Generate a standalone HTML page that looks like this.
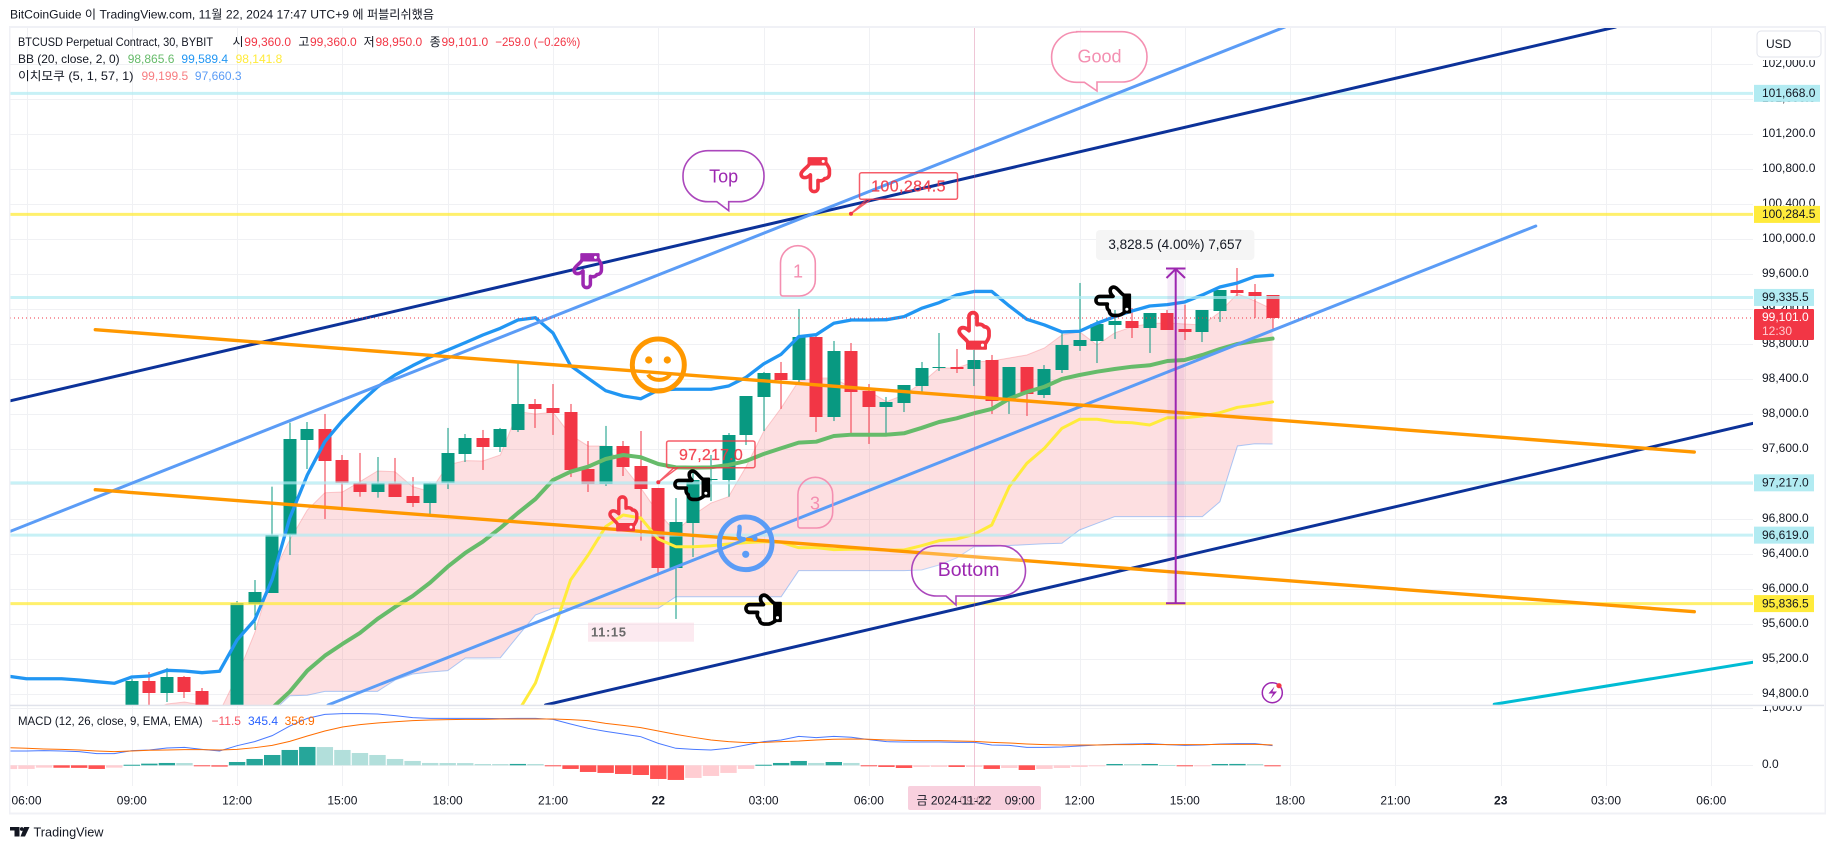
<!DOCTYPE html>
<html lang="ko">
<head>
<meta charset="utf-8">
<title>BTCUSD Perpetual Contract chart</title>
<style>
html,body{margin:0;padding:0;background:#fff;width:1835px;height:849px;overflow:hidden}
svg{display:block;font-family:"Liberation Sans","Noto Sans CJK KR",sans-serif}
text{font-size:12px;fill:#131722}
</style>
</head>
<body>
<svg id="chart" xmlns="http://www.w3.org/2000/svg" width="1835" height="849" viewBox="0 0 1835 849">
  <defs>
    <clipPath id="main-clip"><rect x="10" y="28" width="1743" height="677"/></clipPath>
    <clipPath id="macd-clip"><rect x="10" y="706" width="1743" height="80"/></clipPath>
    <clipPath id="axis-clip"><rect x="1754" y="28" width="70" height="677"/></clipPath>
    <clipPath id="macd-axis-clip"><rect x="1754" y="706" width="70" height="80"/></clipPath>
    <g id="hand">
      <path fill="none" stroke="currentColor" stroke-width="3.8" stroke-linejoin="round" d="M12 19V5a4 4 0 0 1 8 0V13c3-1 6 0 7 2c3 0 5 2 5 5V24c0 3-2 5-3 7H11c-1-3-5-5-8-9c-2-3 0-6 3-6c2 0 4 1 6 3z"/>
      <rect x="9" y="29" width="21" height="9" rx="1" fill="currentColor"/>
      <circle cx="25.5" cy="33.5" r="1.6" fill="#fff"/>
    </g>
  </defs>

  <text x="10" y="18.5" textLength="424" lengthAdjust="spacingAndGlyphs">BitCoinGuide 이 TradingView.com, 11월 22, 2024 17:47 UTC+9 에 퍼블리쉬했음</text>

  <g id="grid"></g>
  <g id="main-pane" clip-path="url(#main-clip)"></g>
  <g id="macd-pane" clip-path="url(#macd-clip)"></g>

  <line x1="974.5" y1="28" x2="974.5" y2="786" stroke="#f06292" stroke-opacity=".3"/>

  <g id="annotations" clip-path="url(#main-clip)">
    <path d="M1076.6 31.7H1122a25 25 0 0 1 25 25v.3a25 25 0 0 1-25 25H1097V91L1084.4 82.3H1076.6a25 25 0 0 1-25-25v-.3a25 25 0 0 1 25-25Z" fill="#fff" fill-opacity=".6" stroke="#f48fb1" stroke-width="1.6"/>
    <text x="1099.5" y="62.5" text-anchor="middle" style="font-size:18px;fill:#f48fb1">Good</text>

    <path d="M708 150.7H739a25 25 0 0 1 25 25v1a25 25 0 0 1-25 25H728.7V210.7L716.8 201.7H708a25 25 0 0 1-25-25v-1a25 25 0 0 1 25-25Z" fill="none" stroke="#ab47bc" stroke-width="1.6"/>
    <text x="723.6" y="182.5" text-anchor="middle" style="font-size:18px;fill:#9c27b0">Top</text>

    <path d="M936.7 545.7H1000.5a25 25 0 0 1 25 25v.3a25 25 0 0 1-25 25H956V605L946 596H936.7a25 25 0 0 1-25-25v-.3a25 25 0 0 1 25-25Z" fill="#fff" fill-opacity=".25" stroke="#ab47bc" stroke-width="1.6"/>
    <text x="968.6" y="576" text-anchor="middle" style="font-size:19.5px;fill:#9c27b0">Bottom</text>

    <path d="M797.9 245.7a17.4 17.4 0 0 1 17.4 17.4V280a16 16 0 0 1-16 16H783a2.5 2.5 0 0 1-2.5-2.5V263.1a17.4 17.4 0 0 1 17.4-17.4Z" fill="none" stroke="#f48fb1" stroke-width="1.6"/>
    <text x="798" y="277.5" text-anchor="middle" style="font-size:18px;fill:#f48fb1">1</text>
    <path d="M815.3 477.3a17.4 17.4 0 0 1 17.4 17.4V512a16 16 0 0 1-16 16H800.4a2.5 2.5 0 0 1-2.5-2.5V494.7a17.4 17.4 0 0 1 17.4-17.4Z" fill="none" stroke="#f48fb1" stroke-width="1.6"/>
    <text x="815" y="509.5" text-anchor="middle" style="font-size:18px;fill:#f48fb1">3</text>

    <g>
      <rect x="859.5" y="172.7" width="98" height="26.6" rx="2" fill="none" stroke="#f23645" stroke-opacity=".8" stroke-width="1.5"/>
      <path d="M867 199.3L851 213.7L871 199.3" fill="none" stroke="#f23645" stroke-opacity=".8" stroke-width="1.5"/>
      <circle cx="851" cy="213.7" r="2" fill="#f23645"/>
      <text x="908.5" y="191.5" text-anchor="middle" style="font-size:16px;letter-spacing:.4px;fill:#f23645;fill-opacity:.9;stroke:#f23645;stroke-width:.3px;stroke-opacity:.7">100,284.5</text>
    </g>
    <g>
      <rect x="666.6" y="441" width="88.4" height="26.7" rx="2" fill="none" stroke="#f23645" stroke-opacity=".8" stroke-width="1.5"/>
      <path d="M674 467.7L658.3 482.3L678 467.7" fill="none" stroke="#f23645" stroke-opacity=".8" stroke-width="1.5"/>
      <circle cx="658.3" cy="482.3" r="2" fill="#f23645"/>
      <text x="711" y="460" text-anchor="middle" style="font-size:16px;letter-spacing:.2px;fill:#f23645;fill-opacity:.9;stroke:#f23645;stroke-width:.3px;stroke-opacity:.7">97,217.0</text>
    </g>

    <use href="#hand" transform="translate(572,288.5) scale(.92,-.93)" style="color:#9c27b0"/>
    <use href="#hand" transform="translate(799,192.5) scale(.95,-.93)" style="color:#f23645"/>
    <use href="#hand" transform="translate(957,311.7)" style="color:#f23645"/>
    <use href="#hand" transform="translate(608,496) scale(.9,.93)" style="color:#f23645"/>
    <use href="#hand" transform="matrix(0,.95,.95,0,674,469)" style="color:#000"/>
    <use href="#hand" transform="matrix(0,.95,.95,0,1095,285)" style="color:#000"/>
    <use href="#hand" transform="matrix(0,.97,.97,0,745,593)" style="color:#000"/>

    <g>
      <circle cx="658.3" cy="365" r="26" fill="none" stroke="#ff9800" stroke-width="5"/>
      <circle cx="648.7" cy="360" r="3.6" fill="#ff9800"/>
      <circle cx="667.3" cy="360" r="3.6" fill="#ff9800"/>
      <path d="M648 374.5a12 9 0 0 0 22 0" fill="none" stroke="#ff9800" stroke-width="4"/>
    </g>
    <g>
      <circle cx="745.7" cy="543.3" r="26.3" fill="none" stroke="#5b9cf6" stroke-width="5"/>
      <circle cx="745.7" cy="554.3" r="3.6" fill="#5b9cf6"/>
      <path d="M739.5 526.7c.6 5-2 9 0 11c1.5 1.5 3 1.5 4.5 1.5" fill="none" stroke="#5b9cf6" stroke-width="4.4" stroke-linecap="round"/>
      <circle cx="755" cy="538.3" r="2.6" fill="#5b9cf6"/>
    </g>

    <g>
      <rect x="1167.4" y="268.3" width="17" height="335" fill="#9c27b0" fill-opacity=".09"/>
      <line x1="1175.7" y1="268.3" x2="1175.7" y2="603.3" stroke="#9c27b0" stroke-width="2"/>
      <path d="M1166 268.5H1185.5M1166.5 278L1175.7 269L1185 278M1166 603.3H1185.5" fill="none" stroke="#9c27b0" stroke-width="2"/>
      <rect x="1096" y="230" width="158.4" height="30" rx="4" fill="#f5f5f5"/>
      <text x="1175.2" y="249" text-anchor="middle" style="font-size:13.5px">3,828.5 (4.00%) 7,657</text>
    </g>

    <g>
      <rect x="588" y="622.7" width="106" height="19" fill="#f8d0de" fill-opacity=".45"/>
      <text x="591" y="636.5" style="font-size:13px;font-weight:bold;letter-spacing:.6px;fill:#6a6a6a">11:15</text>
    </g>

    <g>
      <circle cx="1272.3" cy="692.7" r="10" fill="#fff" stroke="#9c27b0" stroke-width="1.5"/>
      <path d="M1274.5 686.5L1268.5 693.5H1273L1270.5 699L1277 691.5H1272.5Z" fill="#9c27b0"/>
      <circle cx="1279" cy="685.7" r="2.6" fill="#f23645"/>
    </g>
  </g>

  <g id="legend">
    <text x="18" y="46" textLength="195" lengthAdjust="spacingAndGlyphs">BTCUSD Perpetual Contract, 30, BYBIT</text>
    <text x="232.5" y="46">시</text><text x="244.3" y="46" style="fill:#f23645">99,360.0</text>
    <text x="298.4" y="46">고</text><text x="310" y="46" style="fill:#f23645">99,360.0</text>
    <text x="363.6" y="46">저</text><text x="375.5" y="46" style="fill:#f23645">98,950.0</text>
    <text x="429.6" y="46">종</text><text x="441.5" y="46" style="fill:#f23645">99,101.0</text>
    <text x="495.3" y="46" textLength="85" lengthAdjust="spacingAndGlyphs" style="fill:#f23645">−259.0 (−0.26%)</text>
    <text x="18" y="63" textLength="101.6" lengthAdjust="spacingAndGlyphs">BB (20, close, 2, 0)</text>
    <text x="127.7" y="63" style="fill:#66bb6a">98,865.6</text>
    <text x="181.4" y="63" style="fill:#2196f3">99,589.4</text>
    <text x="235.6" y="63" style="fill:#ffeb3b">98,141.8</text>
    <text x="18" y="80" textLength="115.5" lengthAdjust="spacingAndGlyphs">이치모쿠 (5, 1, 57, 1)</text>
    <text x="141.5" y="80" style="fill:#f77c80">99,199.5</text>
    <text x="194.9" y="80" style="fill:#5b9cf6">97,660.3</text>
    <text x="18" y="725" textLength="184.6" lengthAdjust="spacingAndGlyphs">MACD (12, 26, close, 9, EMA, EMA)</text>
    <text x="211.5" y="725" style="fill:#f7525f">−11.5</text>
    <text x="248" y="725" style="fill:#2962ff">345.4</text>
    <text x="284.6" y="725" style="fill:#ff6d00">356.9</text>
  </g>

  <g id="price-axis"></g>
  <g id="time-axis"></g>

  <rect x="1754" y="28" width="70" height="32" fill="#fff"/>
  <rect x="1757" y="31" width="64" height="26" rx="4" fill="#fff" stroke="#e0e3eb"/>
  <text x="1766" y="48">USD</text>

  <rect x="908" y="786" width="133" height="24" rx="2" fill="#f8d0de"/>
  <text x="974.5" y="804.5" text-anchor="middle" style="fill:#b48a98">09:00</text>
  <text x="916.5" y="804.5" xml:space="preserve">금 2024-11-22    09:00</text>

  <g fill="#f0f1f6">
    <rect x="9" y="26" width="1817" height="2"/>
    <rect x="9" y="26" width="1.5" height="788"/>
    <rect x="1824.5" y="26" width="1.5" height="788"/>
    <rect x="9" y="812.5" width="1817" height="2"/>
  </g>
  <rect x="10" y="704.7" width="1814" height="1.5" fill="#e0e3eb"/>

  <g>
    <path d="M10 827H19.5V836.5H14.5V830.5H10Z M24 827.5L20.5 836.5H25L29.5 827H24Z" fill="#131722"/>
    <circle cx="21.8" cy="829" r="1.9" fill="#131722"/>
    <text x="33.5" y="836.5" textLength="70" lengthAdjust="spacingAndGlyphs" style="font-size:13px">TradingView</text>
  </g>

<script>
// ---------- chart data ----------
const candleStart = 6;
const opens = [94600,94952,94815,94998,94838,94640,94560,95832,95961,96621,97707,97832,97478,97218,97112,97218,97066,96986,97218,97546,97729,97626,97821,98118,98072,98026,97375,97204,97638,97409,97158,96243,96758,97249,97249,97764,98198,98472,98392,98883,97969,98724,98266,98084,98129,98323,98535,98541,98518,98621,98152,98541,98221,98506,98781,98838,99021,99067,98986,99158,98975,98941,99181,99421,99398,99360];
const highs = [94975,95055,95101,95009,94872,94660,95866,96106,97173,97904,97912,98004,97535,97558,97512,97501,97283,97218,97844,97775,97821,97844,98586,98175,98346,98118,97695,97867,97695,97809,97158,97043,97364,97535,97786,98209,98484,98598,99204,98918,98838,98815,98346,98198,98335,98598,98929,98746,98735,98678,98541,98541,98563,98929,99501,99078,99192,99215,99158,99192,99253,99192,99421,99672,99489,99360];
const lows = [94500,94678,94712,94758,94620,94500,94500,95535,95958,96392,97375,96804,96941,97058,97047,97055,96941,96861,97146,97455,97364,97569,97798,97844,97764,97283,97112,97181,97295,96556,96186,95661,96369,97009,97058,97649,97809,98061,98369,97798,97923,97786,97661,97786,98026,98255,98495,98472,98323,98004,98004,97981,98186,98472,98724,98586,98861,98872,98701,98964,98849,98826,99055,99352,99101,98950];
const closes = [94952,94815,94998,94826,94643,94550,95840,95969,96621,97718,97832,97470,97218,97112,97218,97055,96986,97218,97558,97729,97626,97832,98118,98061,98015,97364,97204,97638,97398,97146,96243,96769,97249,97261,97764,98209,98472,98392,98883,97969,98724,98255,98084,98141,98335,98529,98541,98518,98621,98152,98541,98232,98518,98792,98849,99032,99067,98986,99158,98964,98941,99192,99421,99386,99352,99101];

const bbUpperStart = -1;
const bbUpper = [95006,94978,94978,94978,94963,94944,94926,94998,95009,95074,95066,95047,95063,95421,95649,96114,96815,97306,97687,97927,98129,98312,98449,98556,98655,98735,98819,98906,98983,99078,99104,98929,98556,98412,98270,98209,98178,98278,98286,98286,98286,98323,98423,98575,98686,98887,98910,99040,99078,99078,99081,99116,99211,99276,99364,99404,99404,99238,99086,99021,98941,98949,99040,99116,99181,99238,99253,99284,99364,99455,99501,99575,99589.4];
const bbBasisStart = 14;
const bbBasis = [94643,94830,95070,95241,95375,95501,95661,95798,95923,96076,96258,96415,96544,96701,96872,97032,97249,97344,97401,97489,97535,97509,97432,97394,97390,97394,97421,97466,97546,97612,97676,97687,97752,97767,97767,97767,97783,97844,97912,97954,98012,98061,98178,98255,98315,98404,98449,98487,98518,98544,98560,98609,98621,98678,98746,98804,98838,98865.6];
const bbLowerStart = 28;
const bbLower = [94598,94929,95501,96106,96392,96716,96849,96815,96575,96487,96487,96498,96518,96533,96544,96537,96476,96476,96453,96457,96457,96449,96449,96498,96556,96575,96629,96735,97173,97440,97612,97840,97943,97943,97912,97904,97878,97961,97961,97981,98018,98080,98106,98141.8];

const cloudStart = 7;
const senkouA = [94598,94689,94712,94678,94598,95009,95501,96164,96564,96906,97104,97112,97230,97352,97344,97173,97116,97421,97470,97466,97535,98030,98004,98023,97764,97638,97638,97409,97158,96872,96658,96849,96986,97058,97401,97801,98072,98381,98415,98415,98301,98266,98144,98221,98358,98529,98529,98598,98609,98644,98678,98758,98906,98944,98792,98929,99001,99036,99044,99032,99021,99169,99378,99295,99199.5];
const senkouB = [94500,94500,94500,94500,94500,94500,94500,94598,94784,94789,94834,94834,94834,94834,94963,95032,95055,95070,95215,95215,95218,95466,95706,95783,95783,95783,95783,95783,95783,95783,95915,95915,95915,95915,95915,95915,95915,96213,96213,96213,96213,96213,96213,96213,96221,96278,96358,96487,96490,96500,96510,96520,96526,96678,96754,96830,96830,96830,96830,96830,96830,97001,97638,97664,97660.3];

const macdStart = -1;
const macdHist = [-66,-64,-41,-43,-45,-64,-41,10,29,41,40,-6,-23,58,111,181,269,322,320,269,216,181,111,76,41,40,39,23,22,24,23,-12,-64,-117,-134,-152,-170,-240,-257,-222,-187,-134,-64,10,41,76,41,58,41,-12,-29,-47,-29,-28,-29,-28,-64,-47,-82,-64,-47,-29,-12,23,22,23,6,-12,-11,23,24,23,-11.5];
const macdLine = [251,251,257,251,239,204,204,257,268,303,315,280,251,344,415,520,689,824,894,906,906,900,871,836,824,824,824,824,818,824,824,806,725,649,596,549,502,385,298,280,268,298,356,415,444,508,485,508,491,450,415,409,409,409,403,403,356,350,315,315,321,339,356,368,374,380,362,350,356,374,380,380,345.4];
const macdSignal = [309,298,286,280,268,251,239,251,263,268,274,274,268,280,309,350,420,514,602,672,713,742,765,783,795,801,806,806,812,812,812,812,801,783,736,701,660,602,543,491,444,415,397,403,415,426,444,456,461,456,444,438,432,432,426,420,403,391,374,362,356,356,356,362,362,368,362,362,362,368,368,368,356.9];

const priceTicks = [102000,101600,101200,100800,100400,100000,99600,99200,98800,98400,98000,97600,97200,96800,96400,96000,95600,95200,94800];
const macdTicks = [1000,0];
const levelPrices = [101668,100284.5,99335.5,97217,96619,95836.5];
const levelColors = ['aqua','yellow','aqua','aqua','aqua','yellow'];
const lastPrice = 99101;
const lastCountdown = '12:30';

const timeBars = [0,6,12,18,24,30,36,42,48,54,60,66,72,78,84,90,96];
const timeLabels = ['06:00','09:00','12:00','15:00','18:00','21:00','22','03:00','06:00','09:00','12:00','15:00','18:00','21:00','23','03:00','06:00'];

// trend lines: [bar, price, bar, price]
const darkUpper = [-0.97,98152,90.55,102426];
const darkLower = [29.57,94678,98.38,97897];
const lightUpper = [-0.97,96659,71.7,102426];
const lightLower = [17.18,94678,86,100152];
const orangeUpper = [3.92,98967,95.03,97569];
const orangeLower = [3.92,97138,95.03,95744];
const cyanLine = [83.63,94686,98.38,95166];

// ---------- axis functions ----------
const SVGNS = 'http://www.w3.org/2000/svg';
function xOf(bar){ return 26.5 + 17.55 * bar; }
function yOf(price){ return 239.3 + (100000 - price) * 0.0875; }
function yMacd(v){ return 765.3 - v * 0.057; }
function fmt(v){ return v.toLocaleString('en-US',{minimumFractionDigits:1,maximumFractionDigits:1}); }
function mk(tag, parent, attrs){
  const el = document.createElementNS(SVGNS, tag);
  for (const k in attrs) el.setAttribute(k, attrs[k]);
  parent.appendChild(el);
  return el;
}
function seriesPoints(values, start, yFn){
  return values.map(function(v, i){ return xOf(start + i).toFixed(2) + ',' + yFn(v).toFixed(2); });
}

const grid = document.getElementById('grid');
const mainPane = document.getElementById('main-pane');
const macdPane = document.getElementById('macd-pane');
const priceAxis = document.getElementById('price-axis');
const timeAxis = document.getElementById('time-axis');

// grid + time axis
timeBars.forEach(function(bar, i){
  const x = Math.round(xOf(bar)) + 0.5;
  const gl = mk('line', grid, {x1:x, x2:x, y1:28, y2:786, stroke:'#f0f1f4'});
  
  
  const t = mk('text', timeAxis, {x:xOf(bar), y:804.5, 'text-anchor':'middle'});
  t.textContent = timeLabels[i];
  if (timeLabels[i].length < 3) t.setAttribute('font-weight', 'bold');
  
  
});
priceTicks.forEach(function(p){
  const y = Math.round(yOf(p)) + 0.5;
  const gl = mk('line', grid, {x1:10, x2:1753, y1:y, y2:y, stroke:'#f0f1f4'});
  
  
  const t = mk('text', priceAxis, {x:1762, y:yOf(p) + 2.8, 'clip-path':'url(#axis-clip)'});
  t.textContent = fmt(p);
  
  
});
macdTicks.forEach(function(v){
  const y = Math.round(yMacd(v)) + 0.5;
  const gl = mk('line', grid, {x1:10, x2:1753, y1:y, y2:y, stroke:'#f0f1f4'});
  
  
  const t = mk('text', priceAxis, {x:1762, y:yMacd(v) + 2.8, 'clip-path':'url(#macd-axis-clip)'});
  t.textContent = fmt(v);
  
  
});

// ichimoku cloud
const ptsA = seriesPoints(senkouA, cloudStart, yOf);
const ptsB = seriesPoints(senkouB, cloudStart, yOf);
const cloud = mk('polygon', mainPane, {points: ptsA.concat(ptsB.slice().reverse()).join(' '), fill:'#f23645', 'fill-opacity':'.16'});


const lineA = mk('polyline', mainPane, {points: ptsA.join(' '), fill:'none', stroke:'#f7525f', 'stroke-opacity':'.28', 'stroke-width':1});


const lineB = mk('polyline', mainPane, {points: ptsB.join(' '), fill:'none', stroke:'#5b9cf6', 'stroke-opacity':'.5', 'stroke-width':1});



// candles
opens.forEach(function(o, i){
  const c = closes[i];
  const bar = candleStart + i;
  const up = c >= o;
  const col = up ? '#089981' : '#f23645';
  const xc = Math.round(xOf(bar));
  const top = Math.round(yOf(Math.max(o, c)));
  const bottom = Math.round(yOf(Math.min(o, c)));
  const wick = mk('rect', mainPane, {x:xc - 0.5, width:1, y:yOf(highs[i]), height:Math.max(1, yOf(lows[i]) - yOf(highs[i])), fill:col});
  
  
  const body = mk('rect', mainPane, {x:xc - 6.5, width:13, y:top, height:Math.max(1, bottom - top), fill:col});
  
  
});

// bollinger bands
const bbU = mk('polyline', mainPane, {points: seriesPoints(bbUpper, bbUpperStart, yOf).join(' '), fill:'none', stroke:'#2196f3', 'stroke-width':3.3, 'stroke-linejoin':'round', 'stroke-linecap':'round'});


const bbM = mk('polyline', mainPane, {points: seriesPoints(bbBasis, bbBasisStart, yOf).join(' '), fill:'none', stroke:'#66bb6a', 'stroke-width':4, 'stroke-linejoin':'round', 'stroke-linecap':'round'});


const bbL = mk('polyline', mainPane, {points: seriesPoints(bbLower, bbLowerStart, yOf).join(' '), fill:'none', stroke:'#ffeb3b', 'stroke-width':3, 'stroke-linejoin':'round', 'stroke-linecap':'round'});



// horizontal price levels
levelPrices.forEach(function(p, i){
  const isYellow = levelColors[i] === 'yellow';
  const y = yOf(p);
  const ln = mk('line', mainPane, {x1:10, x2:1753, y1:y, y2:y, stroke:isYellow ? '#ffeb3b' : '#b2ebf2', 'stroke-opacity':isYellow ? .75 : .72, 'stroke-width':3});
  
  
});

// trend lines
function drawTrend(seg, colour, width, name){
  const ln = mk('line', mainPane, {x1:xOf(seg[0]), y1:yOf(seg[1]), x2:xOf(seg[2]), y2:yOf(seg[3]), stroke:colour, 'stroke-width':width, 'stroke-linecap':'round'});
  
  
}
drawTrend(darkUpper, '#0c3299', 3, 'dark-channel-upper-line');
drawTrend(darkLower, '#0c3299', 3, 'dark-channel-lower-line');
drawTrend(lightUpper, '#5b9cf6', 3, 'blue-channel-upper-line');
drawTrend(lightLower, '#5b9cf6', 3, 'blue-channel-lower-line');
drawTrend(orangeUpper, '#ff9800', 3.4, 'orange-channel-upper-line');
drawTrend(orangeLower, '#ff9800', 3.4, 'orange-channel-lower-line');
drawTrend(cyanLine, '#00bcd4', 3, 'cyan-trend-line');

// last price dotted line
const lastY = yOf(lastPrice);
const lastLine = mk('line', mainPane, {x1:10, x2:1753, y1:lastY, y2:lastY, stroke:'#f23645', 'stroke-dasharray':'1 3'});



// price tags
levelPrices.forEach(function(p, i){
  const isYellow = levelColors[i] === 'yellow';
  const y = yOf(p);
  const w = p >= 100000 ? 66 : 60;
  const tag = mk('rect', priceAxis, {x:1754, y:y - 8.5, width:w, height:17, fill:isYellow ? '#ffeb3b' : '#b2ebf2'});
  
  
  const t = mk('text', priceAxis, {x:1762, y:y + 3.7});
  t.textContent = fmt(p);
  
  
});
const lastTag = mk('rect', priceAxis, {x:1754, y:lastY - 9, width:60, height:31, rx:1, fill:'#f23645'});


const lastText = mk('text', priceAxis, {x:1762, y:lastY + 3.1, style:'fill:#fff'});
lastText.textContent = fmt(lastPrice);


const countText = mk('text', priceAxis, {x:1762, y:lastY + 17.2, style:'fill:#ffc9ce'});
countText.textContent = lastCountdown;



// MACD histogram and lines
macdHist.forEach(function(v, i){
  const bar = macdStart + i;
  const prev = i > 0 ? macdHist[i - 1] : v - 1;
  const rising = v > prev;
  const col = v >= 0 ? (rising ? '#26a69a' : '#b2dfdb') : (rising ? '#ffcdd2' : '#ff5252');
  const y0 = yMacd(0);
  const y1 = yMacd(v);
  const r = mk('rect', macdPane, {x:xOf(bar) - 8.2, width:16.4, y:Math.min(y0, y1), height:Math.max(1, Math.abs(y1 - y0)), fill:col});
  
  
});
const mLine = mk('polyline', macdPane, {points: seriesPoints(macdLine, macdStart, yMacd).join(' '), fill:'none', stroke:'#2962ff', 'stroke-opacity':'.85', 'stroke-width':1});


const sLine = mk('polyline', macdPane, {points: seriesPoints(macdSignal, macdStart, yMacd).join(' '), fill:'none', stroke:'#ff6d00', 'stroke-width':1});


</script>
</svg>
</body>
</html>
